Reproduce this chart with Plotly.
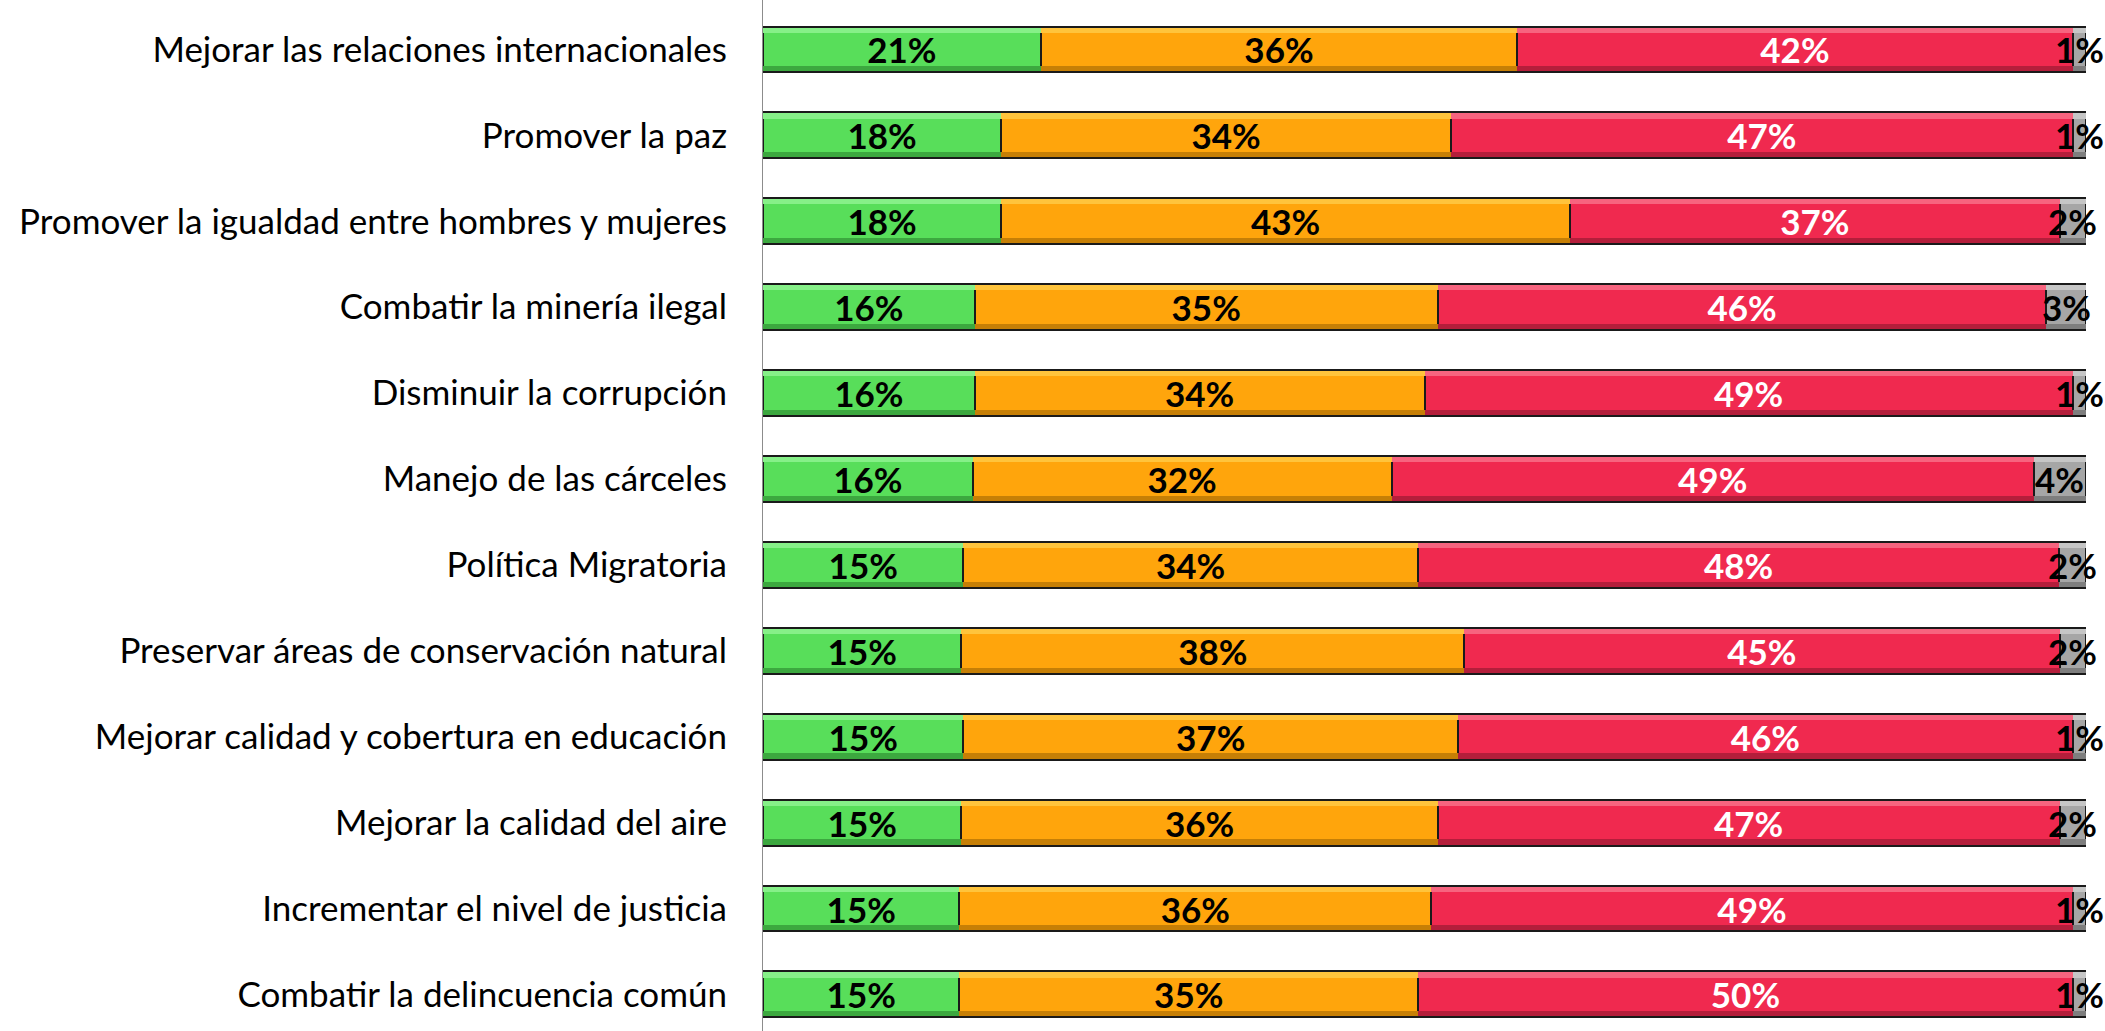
import plotly.graph_objects as go

# categories, top to bottom as in the reference
categories = [
    "Mejorar las relaciones internacionales",
    "Promover la paz",
    "Promover la igualdad entre hombres y mujeres",
    "Combatir la minería ilegal",
    "Disminuir la corrupción",
    "Manejo de las cárceles",
    "Política Migratoria",
    "Preservar áreas de conservación natural",
    "Mejorar calidad y cobertura en educación",
    "Mejorar la calidad del aire",
    "Incrementar el nivel de justicia",
    "Combatir la delincuencia común",
]

green = [21, 18, 18, 16, 16, 16, 15, 15, 15, 15, 15, 15]
orange = [36, 34, 43, 35, 34, 32, 34, 38, 37, 36, 36, 35]
red = [42, 47, 37, 46, 49, 49, 48, 45, 46, 47, 49, 50]
grey = [1, 1, 2, 3, 1, 4, 2, 2, 1, 2, 1, 1]

# rounded shares don't always add to 100; bars are drawn as shares of the row total
totals = [g + o + r + gr for g, o, r, gr in zip(green, orange, red, grey)]


def share(vals):
    return [v * 100 / t for v, t in zip(vals, totals)]


label_font = dict(family="Lato", size=35, weight="bold")

# values, main colour, top highlight, bottom shade, label colour
series = [
    (green, "#58DE5A", "#86F088", "#3CA83F", "black"),
    (orange, "#FFA50C", "#FFC43C", "#C67F06", "black"),
    (red, "#F0294F", "#F7647F", "#B41E3B", "white"),
    (grey, "#A6A6A6", "#C6C6C6", "#7E7E7E", None),  # labelled with annotations
]

BAR_W = 0.535
BAND = 0.06

fig = go.Figure()
for vals, color, light, dark, txt_color in series:
    x = share(vals)
    fig.add_trace(
        go.Bar(
            x=x, y=categories, orientation="h",
            width=BAR_W,
            marker=dict(color=color, line=dict(color="#1a1a1a", width=2)),
            text=[f"{v}%" for v in vals] if txt_color else None,
            textposition="inside" if txt_color else "none",
            insidetextanchor="middle",
            constraintext="none",
            textfont=dict(**label_font, color=txt_color or "black"),
            showlegend=False, hoverinfo="skip",
        )
    )
    # bevel: light band along the top, dark band along the bottom
    fig.add_trace(
        go.Bar(
            x=x, y=categories, orientation="h", yaxis="y2",
            width=BAND, offset=-BAR_W / 2 + 0.012,
            marker=dict(color=light, line=dict(width=0)),
            showlegend=False, hoverinfo="skip",
        )
    )
    fig.add_trace(
        go.Bar(
            x=x, y=categories, orientation="h", yaxis="y3",
            width=BAND, offset=BAR_W / 2 - BAND - 0.012,
            marker=dict(color=dark, line=dict(width=0)),
            showlegend=False, hoverinfo="skip",
        )
    )

# grey share labels overflow the bar, centred on it
for cat, g, o, r, gr, t in zip(categories, green, orange, red, grey, totals):
    fig.add_annotation(
        x=(g + o + r + gr / 2) * 100 / t,
        y=cat,
        text=f"{gr}%",
        showarrow=False,
        font=dict(**label_font, color="black"),
        xanchor="center",
    )

y_range = [11.426, -0.576]
hidden_y = dict(
    overlaying="y", categoryorder="array", categoryarray=categories,
    range=y_range, visible=False,
)

fig.update_layout(
    barmode="stack",
    width=2105,
    height=1031,
    margin=dict(l=763, r=19, t=0, b=0),
    plot_bgcolor="white",
    paper_bgcolor="white",
    xaxis=dict(range=[0, 100], visible=False, fixedrange=True),
    yaxis=dict(
        categoryorder="array",
        categoryarray=categories,
        range=y_range,
        showline=True,
        linecolor="#8c8c8c",
        linewidth=1,
        showgrid=False,
        ticks="",
        ticklabelstandoff=28,
        tickfont=dict(family="Lato", size=35, color="black"),
    ),
    yaxis2=hidden_y,
    yaxis3=hidden_y,
)

# page body margin would shift the figure by 8px
fig.write_html(
    "out.html",
    config={"displayModeBar": False},
    post_script="document.body.style.margin = '0';",
)
